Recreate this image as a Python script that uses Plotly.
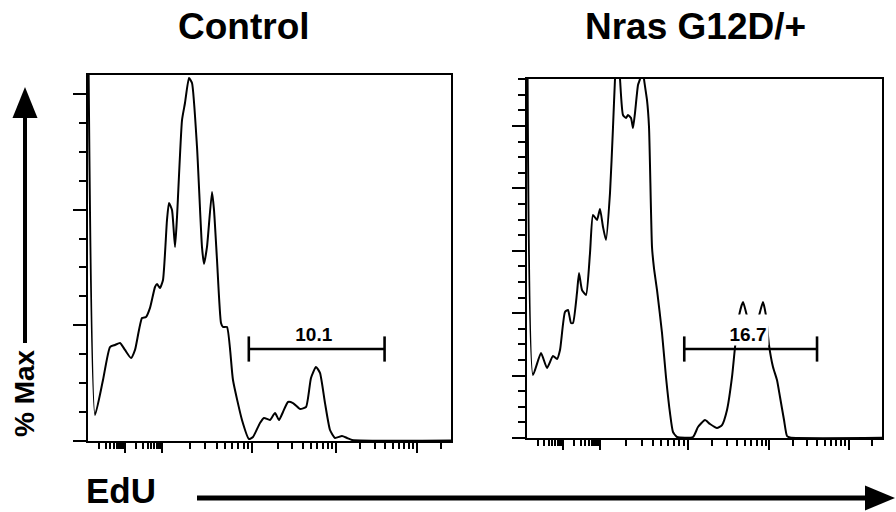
import plotly.graph_objects as go
import math

W, H = 896, 512

# ---------------- data (EdU display channel 0-1000, histogram height) ----------------
ctrl_x = [1.4, 19.3, 41.3, 60.6, 74.4, 88.2, 101.9, 118.5, 129.5, 148.8, 159.8, 170.8, 184.6, 190.1,
          198.3, 206.6, 217.6, 223.1, 231.4, 239.7, 245.2, 259.0, 267.2, 278.2, 286.5, 300.3, 314.0,
          319.6, 327.8, 341.6, 347.1, 355.4, 366.4, 371.9, 382.9, 399.4, 424.2, 443.5, 454.5, 473.8,
          484.8, 501.4, 515.2, 526.2, 537.2, 551.0, 564.7, 584.0, 600.6, 614.3, 628.1, 639.1, 652.9,
          666.7, 680.4, 699.7, 713.5, 727.3, 1000]
ctrl_y = [329, 22.5, 52.7, 81.2, 83.0, 84.7, 78.7, 71.7, 78.7, 106.3, 107.2, 115.0, 133.1, 135.7,
          132.2, 139.2, 191.0, 205.7, 199.7, 167.7, 193.6, 277.4, 292.1, 313.7, 309.4, 254.1, 167.7,
          153.0, 167.7, 215.2, 199.7, 156.4, 102.0, 98.5, 98.5, 52.7, 18.2, 1.7, 3.5, 15.6,
          19.9, 18.2, 24.2, 18.2, 25.1, 33.7, 32.8, 27.7, 29.4, 54.5, 64.0, 58.8, 32.8,
          9.5, 2.6, 4.3, 2.6, 0.9, 0.4]

nras_x = [1.4, 16.9, 39.4, 56.3, 73.2, 84.5, 93.0, 107.0, 115.5, 123.9, 129.6, 140.8, 146.5, 154.9,
          166.2, 177.5, 185.9, 197.2, 205.6, 214.1, 222.5, 233.8, 242.3, 247.9, 254.9, 262.0, 270.4,
          278.9, 284.5, 293.0, 298.6, 304.2, 312.7, 318.3, 324.0, 329.6, 338.0, 343.7, 352.1, 357.7,
          366.2, 380.3, 391.5, 402.8, 411.3, 422.5, 467.6, 481.7, 501.4, 515.5, 535.2, 549.3, 563.4,
          577.5, 586.0, 597.2, 608.5, 619.7, 636.6, 653.5, 664.8, 673.2, 681.7, 693.0, 704.2, 712.7,
          724.0, 732.4, 740.8, 1000]
nras_y = [606, 101.0, 136.2, 112.2, 131.4, 126.6, 141.0, 201.9, 205.1, 184.3, 184.3, 232.4, 264.4, 237.2,
          229.2, 296.5, 357.4, 349.4, 367.0, 338.1, 317.3, 392.6, 498.4, 575.3, 637.8, 575.3, 517.6,
          512.8, 517.6, 512.8, 496.8, 520.8, 565.7, 575.3, 629.8, 575.3, 541.7, 498.4, 306.1, 272.4,
          237.2, 168.3, 97.8, 40.1, 9.6, 1.6, 1.6, 17.6, 28.8, 22.4, 16.0, 20.8, 44.9,
          97.8, 145.8, 196.0, 218.0, 196.0, 173.1, 196.0, 218.0, 196.0, 149.0, 113.8, 92.9, 65.7,
          28.8, 3.2, 0.8, 0.3]

panel_titles = ["Control", "Nras G12D/+"]
gate_labels = ["10.1", "16.7"]
gate_lo, gate_hi = 443, 817
gate_label_x = 622.5
gate_y = [79.5, 142.6]

y_max = [316.3, 575.3]
y_major_step = 100
y_minor_step = 25

# display positions of the decades on the (biexponential-like) EdU axis
x_decades = [0, 102, 205, 453, 683, 906, 1129]

# ---------------- axis ticks ----------------
x_major = [d for d in x_decades[1:] if d <= 1000]
x_minor = []
for a, b in zip(x_decades[:-1], x_decades[1:]):
    for m in range(2, 10):
        v = a + math.log10(m) * (b - a)
        if v <= 1000:
            x_minor.append(v)


def y_ticks(ymax):
    major = [v for v in range(0, int(ymax) + 1, y_major_step)]
    minor = [v for v in range(0, int(ymax) + 1, y_minor_step) if v % y_major_step]
    return major, minor


FONT = "Liberation Sans, Arial, Helvetica, sans-serif"

fig = go.Figure()
curves = [(ctrl_x, ctrl_y), (nras_x, nras_y)]
for i, (cx, cy) in enumerate(curves):
    xa = "x" if i == 0 else "x2"
    ya = "y" if i == 0 else "y2"
    fig.add_trace(go.Scatter(x=cx, y=cy, mode="lines",
                             line=dict(color="black", width=2, shape="spline", smoothing=0.5),
                             xaxis=xa, yaxis=ya, showlegend=False, hoverinfo="skip"))
    fig.add_trace(go.Scatter(x=[gate_lo, gate_hi], y=[gate_y[i], gate_y[i]], mode="lines+markers",
                             line=dict(color="black", width=2.6),
                             marker=dict(symbol="line-ns", size=18, color="black",
                                         line=dict(color="black", width=2.6)),
                             xaxis=xa, yaxis=ya, showlegend=False, hoverinfo="skip"))

# panel pixel boxes: (left, right, top, bottom)
boxes = [(88, 451, 75, 441), (527, 882, 79, 438)]


def px_x(p):
    return p / W


def px_y(p):
    return 1 - p / H


def xaxis_cfg(box, anchor):
    return dict(domain=[px_x(box[0]), px_x(box[1])], anchor=anchor, range=[0, 1000],
                showline=True, mirror=True, linecolor="black", linewidth=2,
                showgrid=False, zeroline=False, showticklabels=False,
                ticks="outside", tickmode="array", tickvals=x_major, ticklen=10, tickwidth=2,
                tickcolor="black",
                minor=dict(tickmode="array", tickvals=x_minor, ticks="outside", ticklen=6,
                           tickwidth=1.5, tickcolor="black"))


def yaxis_cfg(box, anchor, ymax):
    major, minor = y_ticks(ymax)
    return dict(domain=[px_y(box[3]), px_y(box[2])], anchor=anchor, range=[0, ymax],
                showline=True, mirror=True, linecolor="black", linewidth=2,
                showgrid=False, zeroline=False, showticklabels=False,
                ticks="outside", tickmode="array", tickvals=major, ticklen=13, tickwidth=2,
                tickcolor="black",
                minor=dict(tickmode="array", tickvals=minor, ticks="outside", ticklen=7,
                           tickwidth=1.5, tickcolor="black"))


annotations = []
title_centers = [(243.5, 26), (695, 26)]
for t, (cxp, cyp) in zip(panel_titles, title_centers):
    annotations.append(dict(text="<b>%s</b>" % t, x=px_x(cxp), y=px_y(cyp), xref="paper", yref="paper",
                            xanchor="center", yanchor="middle", showarrow=False,
                            font=dict(family=FONT, size=37, color="black")))

for i, lab in enumerate(gate_labels):
    annotations.append(dict(text="<b>%s</b>" % lab, x=gate_label_x, y=gate_y[i],
                            xref="x" if i == 0 else "x2", yref="y" if i == 0 else "y2",
                            xanchor="center", yanchor="bottom", yshift=3, showarrow=False,
                            bgcolor="white", borderpad=0, width=40, height=30, valign="bottom",
                            font=dict(family=FONT, size=19, color="black")))

annotations.append(dict(text="<b>EdU</b>", x=px_x(121), y=0, xref="paper", yref="paper",
                        xanchor="center", yanchor="bottom", showarrow=False,
                        font=dict(family=FONT, size=35, color="black")))
annotations.append(dict(text="<b>% Max</b>", x=px_x(24), y=px_y(393), xref="paper", yref="paper",
                        xanchor="center", yanchor="middle", showarrow=False, textangle=-90,
                        font=dict(family=FONT, size=28, color="black")))


def tri(points):
    s = "M " + " L ".join("%f,%f" % (px_x(a), px_y(b)) for a, b in points) + " Z"
    return s


shapes = [
    dict(type="line", xref="paper", yref="paper", x0=px_x(25), x1=px_x(25), y0=px_y(343), y1=px_y(114),
         line=dict(color="black", width=4)),
    dict(type="path", xref="paper", yref="paper", path=tri([(25, 87), (12.5, 118), (37.5, 118)]),
         fillcolor="black", line=dict(color="black", width=0)),
    dict(type="line", xref="paper", yref="paper", x0=px_x(197), x1=px_x(868), y0=px_y(498), y1=px_y(498),
         line=dict(color="black", width=5)),
    dict(type="path", xref="paper", yref="paper", path=tri([(895, 498), (865, 485.5), (865, 510.5)]),
         fillcolor="black", line=dict(color="black", width=0)),
]

fig.update_layout(
    width=W, height=H, autosize=False,
    margin=dict(l=0, r=0, t=0, b=0),
    paper_bgcolor="white", plot_bgcolor="white",
    xaxis=xaxis_cfg(boxes[0], "y"),
    yaxis=yaxis_cfg(boxes[0], "x", y_max[0]),
    xaxis2=xaxis_cfg(boxes[1], "y2"),
    yaxis2=yaxis_cfg(boxes[1], "x2", y_max[1]),
    annotations=annotations,
    shapes=shapes,
    showlegend=False,
)

fig.write_html("out.html",
               config={"displayModeBar": False},
               post_script="document.body.style.margin='0px';document.body.style.padding='0px';"
                           "document.body.style.overflow='hidden';")
